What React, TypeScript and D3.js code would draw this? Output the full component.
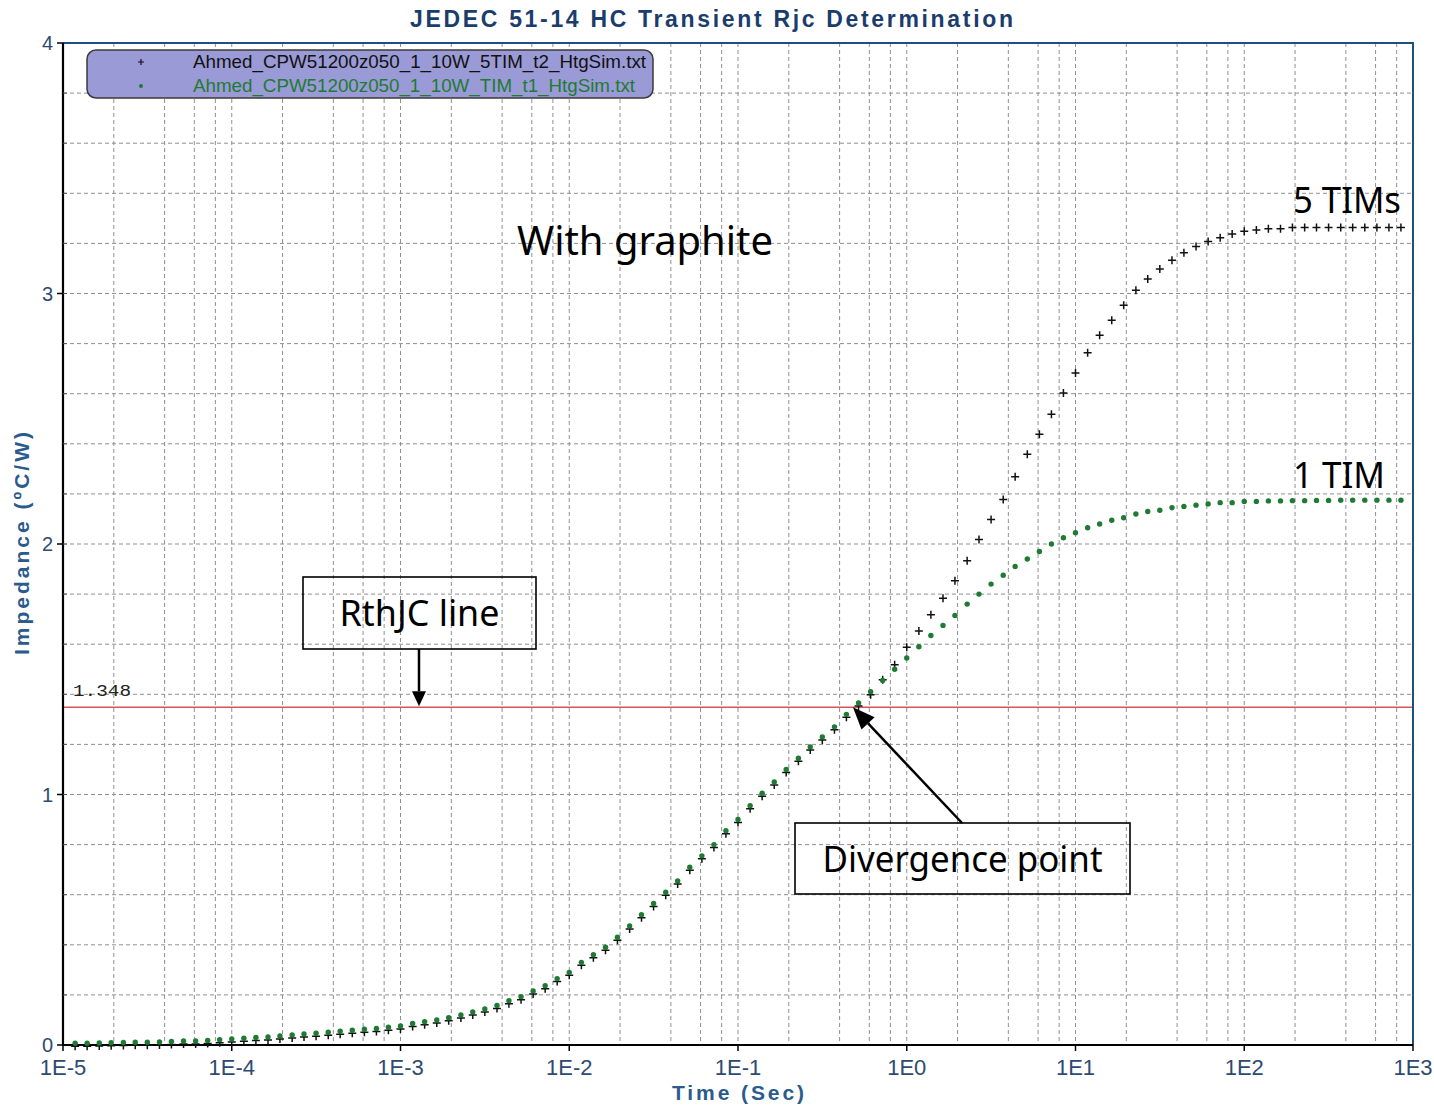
import { useEffect, useRef } from 'react';
import * as d3 from 'd3';

// sample times (s), 14 per decade
const timeSec = [
  1.18e-5, 1.39e-5, 1.64e-5, 1.93e-5, 2.28e-5, 2.68e-5, 3.16e-5, 3.73e-5, 4.39e-5, 5.18e-5, 6.11e-5, 7.2e-5, 8.48e-5,
  1e-4, 1.18e-4, 1.39e-4, 1.64e-4, 1.93e-4, 2.28e-4, 2.68e-4, 3.16e-4, 3.73e-4, 4.39e-4, 5.18e-4, 6.11e-4, 7.2e-4, 8.48e-4,
  1e-3, 1.18e-3, 1.39e-3, 1.64e-3, 1.93e-3, 2.28e-3, 2.68e-3, 3.16e-3, 3.73e-3, 4.39e-3, 5.18e-3, 6.11e-3, 7.2e-3, 8.48e-3,
  1e-2, 1.18e-2, 1.39e-2, 1.64e-2, 1.93e-2, 2.28e-2, 2.68e-2, 3.16e-2, 3.73e-2, 4.39e-2, 5.18e-2, 6.11e-2, 7.2e-2, 8.48e-2,
  1e-1, 1.18e-1, 1.39e-1, 1.64e-1, 1.93e-1, 2.28e-1, 2.68e-1, 3.16e-1, 3.73e-1, 4.39e-1, 5.18e-1, 6.11e-1, 7.2e-1, 8.48e-1,
  1, 1.18, 1.39, 1.64, 1.93, 2.28, 2.68, 3.16, 3.73, 4.39, 5.18, 6.11, 7.2, 8.48,
  10, 11.8, 13.9, 16.4, 19.3, 22.8, 26.8, 31.6, 37.3, 43.9, 51.8, 61.1, 72, 84.8,
  100, 118, 139, 164, 193, 228, 268, 316, 373, 439, 518, 611, 720, 848,
];

// 5 TIMs (black +)
const tim5Impedance = [
  0.007, 0.007, 0.008, 0.009, 0.01, 0.011, 0.011, 0.012, 0.014, 0.016, 0.016, 0.018, 0.021,
  0.024, 0.027, 0.03, 0.032, 0.036, 0.04, 0.044, 0.047, 0.051, 0.055, 0.059, 0.063, 0.066, 0.071,
  0.076, 0.086, 0.093, 0.1, 0.109, 0.12, 0.132, 0.144, 0.158, 0.177, 0.193, 0.216, 0.237, 0.265,
  0.29, 0.33, 0.36, 0.39, 0.43, 0.475, 0.52, 0.565, 0.61, 0.655, 0.71, 0.755, 0.8, 0.855,
  0.9, 0.955, 1.005, 1.05, 1.1, 1.145, 1.19, 1.23, 1.27, 1.32, 1.365, 1.41, 1.47, 1.53,
  1.6, 1.665, 1.73, 1.795, 1.865, 1.945, 2.03, 2.11, 2.19, 2.28, 2.37, 2.45, 2.53, 2.615,
  2.695, 2.775, 2.845, 2.905, 2.965, 3.025, 3.07, 3.11, 3.145, 3.175, 3.2, 3.22, 3.235, 3.25,
  3.26, 3.265, 3.27, 3.27, 3.275, 3.275, 3.275, 3.275, 3.275, 3.275, 3.275, 3.275, 3.275, 3.275,
];

// 1 TIM (green dots)
const tim1Impedance = [
  0.007, 0.007, 0.008, 0.009, 0.01, 0.011, 0.011, 0.012, 0.014, 0.016, 0.016, 0.018, 0.021,
  0.024, 0.027, 0.03, 0.032, 0.036, 0.04, 0.044, 0.047, 0.051, 0.055, 0.059, 0.063, 0.066, 0.071,
  0.076, 0.086, 0.093, 0.1, 0.109, 0.12, 0.132, 0.144, 0.158, 0.177, 0.193, 0.216, 0.237, 0.265,
  0.29, 0.33, 0.36, 0.39, 0.43, 0.475, 0.52, 0.565, 0.61, 0.655, 0.71, 0.755, 0.8, 0.855,
  0.9, 0.955, 1.005, 1.05, 1.1, 1.145, 1.19, 1.23, 1.27, 1.32, 1.365, 1.41, 1.455, 1.5,
  1.545, 1.59, 1.635, 1.675, 1.715, 1.76, 1.8, 1.84, 1.875, 1.91, 1.94, 1.97, 2.0, 2.025,
  2.045, 2.065, 2.08, 2.095, 2.105, 2.12, 2.13, 2.135, 2.145, 2.15, 2.155, 2.16, 2.165, 2.165,
  2.17, 2.17, 2.172, 2.172, 2.173, 2.173, 2.174, 2.174, 2.175, 2.175, 2.175, 2.175, 2.175, 2.175,
];

const seriesNames = [
  'Ahmed_CPW51200z050_1_10W_5TIM_t2_HtgSim.txt',
  'Ahmed_CPW51200z050_1_10W_TIM_t1_HtgSim.txt',
];
const xTickValues = [1e-5, 1e-4, 1e-3, 1e-2, 1e-1, 1, 10, 100, 1000];
const xTickLabels = ['1E-5', '1E-4', '1E-3', '1E-2', '1E-1', '1E0', '1E1', '1E2', '1E3'];
const yTickValues = [0, 1, 2, 3, 4];
const gridMultipliers = [1, 2, 4, 6, 8];
const rthJc = 1.348;
const divergenceTime = 0.48;

const GREEN = '#1f7a33';
const BLUE = '#1f4f7e';

export default function App() {
  const svgRef = useRef<SVGSVGElement>(null);

  useEffect(() => {
    if (!svgRef.current) return;
    const svg = d3.select(svgRef.current);
    svg.selectAll('*').remove();

    const left = 63;
    const right = 1413;
    const top = 43;
    const bottom = 1045;

    const x = d3.scaleLog().domain([1e-5, 1e3]).range([left, right]);
    const y = d3.scaleLinear().domain([0, 4]).range([bottom, top]);

    svg.append('rect').attr('width', 1434).attr('height', 1105).attr('fill', '#fff');

    // grid
    const grid = svg.append('g').attr('stroke', '#8f8f96').attr('stroke-width', 1).attr('stroke-dasharray', '4,3');
    const vLines: number[] = [];
    xTickValues.slice(0, -1).forEach((d) => gridMultipliers.forEach((m) => vLines.push(d * m)));
    grid
      .selectAll('line.v')
      .data(vLines.slice(1))
      .enter()
      .append('line')
      .attr('x1', (d) => x(d))
      .attr('x2', (d) => x(d))
      .attr('y1', top)
      .attr('y2', bottom);
    const hLines = d3.range(1, 20).map((k) => k * 0.2);
    grid
      .selectAll('line.h')
      .data(hLines)
      .enter()
      .append('line')
      .attr('x1', left)
      .attr('x2', right)
      .attr('y1', (d) => y(d))
      .attr('y2', (d) => y(d));

    // RthJC line
    svg
      .append('line')
      .attr('x1', left)
      .attr('x2', right)
      .attr('y1', y(rthJc))
      .attr('y2', y(rthJc))
      .attr('stroke', '#d9545a')
      .attr('stroke-width', 1.5);
    svg
      .append('text')
      .attr('x', left + 10)
      .attr('y', y(rthJc) - 11)
      .attr('font-family', '"Liberation Mono", monospace')
      .attr('font-size', 17)
      .attr('textLength', 58)
      .attr('lengthAdjust', 'spacingAndGlyphs')
      .attr('fill', '#222')
      .text(rthJc.toFixed(3));

    // frame
    svg
      .append('path')
      .attr('d', `M${left},${top}H${right}V${bottom}`)
      .attr('fill', 'none')
      .attr('stroke', BLUE)
      .attr('stroke-width', 2);
    svg
      .append('path')
      .attr('d', `M${left},${top}V${bottom}H${right}`)
      .attr('fill', 'none')
      .attr('stroke', '#000')
      .attr('stroke-width', 2.2);

    // ticks
    svg
      .selectAll('line.xt')
      .data(xTickValues)
      .enter()
      .append('line')
      .attr('x1', (d) => x(d))
      .attr('x2', (d) => x(d))
      .attr('y1', bottom)
      .attr('y2', bottom + 6)
      .attr('stroke', '#000')
      .attr('stroke-width', 1.5);
    svg
      .selectAll('line.ymin')
      .data(hLines)
      .enter()
      .append('line')
      .attr('x1', left)
      .attr('x2', left + 4)
      .attr('y1', (d) => y(d))
      .attr('y2', (d) => y(d))
      .attr('stroke', '#555')
      .attr('stroke-width', 1);
    svg
      .selectAll('line.yt')
      .data(yTickValues)
      .enter()
      .append('line')
      .attr('x1', left - 6)
      .attr('x2', left)
      .attr('y1', (d) => y(d))
      .attr('y2', (d) => y(d))
      .attr('stroke', '#000')
      .attr('stroke-width', 1.5);

    const tickFont = '"Liberation Sans", Arial, sans-serif';
    svg
      .selectAll('text.xl')
      .data(xTickValues)
      .enter()
      .append('text')
      .attr('x', (d) => x(d))
      .attr('y', 1075)
      .attr('text-anchor', 'middle')
      .attr('font-family', tickFont)
      .attr('font-size', 22)
      .attr('fill', '#2d4a73')
      .text((_, i) => xTickLabels[i]);
    svg
      .selectAll('text.yl')
      .data(yTickValues)
      .enter()
      .append('text')
      .attr('x', 53)
      .attr('y', (d) => y(d) + 7)
      .attr('text-anchor', 'end')
      .attr('font-family', tickFont)
      .attr('font-size', 20)
      .attr('fill', '#2d4a73')
      .text((d) => String(d));

    // titles
    svg
      .append('text')
      .attr('x', 410)
      .attr('y', 27)
      .attr('font-family', tickFont)
      .attr('font-weight', 'bold')
      .attr('font-size', 23)
      .attr('textLength', 603)
      .attr('lengthAdjust', 'spacing')
      .attr('fill', '#1b3d6d')
      .text('JEDEC 51-14 HC Transient Rjc Determination');
    svg
      .append('text')
      .attr('x', 672)
      .attr('y', 1100)
      .attr('font-family', tickFont)
      .attr('font-weight', 'bold')
      .attr('font-size', 21)
      .attr('textLength', 132)
      .attr('lengthAdjust', 'spacing')
      .attr('fill', '#2a5b8c')
      .text('Time (Sec)');
    svg
      .append('text')
      .attr('transform', `translate(29,655) rotate(-90)`)
      .attr('font-family', tickFont)
      .attr('font-weight', 'bold')
      .attr('font-size', 21)
      .attr('textLength', 223)
      .attr('lengthAdjust', 'spacing')
      .attr('fill', '#2a5b8c')
      .text('Impedance (ºC/W)');

    // series
    const plus = 'M-4,0H4M0,-4V4';
    svg
      .append('g')
      .selectAll('path')
      .data(timeSec)
      .enter()
      .append('path')
      .attr('transform', (d, i) => `translate(${x(d)},${y(tim5Impedance[i]) + 3})`)
      .attr('d', plus)
      .attr('stroke', '#111')
      .attr('stroke-width', 1.5);
    svg
      .append('g')
      .selectAll('circle')
      .data(timeSec)
      .enter()
      .append('circle')
      .attr('cx', (d) => x(d))
      .attr('cy', (d, i) => y(tim1Impedance[i]))
      .attr('r', 2.7)
      .attr('fill', GREEN);

    // legend
    const lg = svg.append('g');
    lg.append('rect')
      .attr('x', 87)
      .attr('y', 50)
      .attr('width', 566)
      .attr('height', 48)
      .attr('rx', 9)
      .attr('fill', '#9a9ad6')
      .attr('stroke', '#3a3a3a')
      .attr('stroke-width', 1.5);
    lg.append('path').attr('transform', 'translate(141,62)').attr('d', 'M-3,0H3M0,-3V3').attr('stroke', '#111').attr('stroke-width', 1.2);
    lg.append('circle').attr('cx', 141).attr('cy', 86).attr('r', 2).attr('fill', GREEN);
    seriesNames.forEach((name, i) => {
      lg.append('text')
        .attr('x', 193)
        .attr('y', 68 + i * 24)
        .attr('font-family', tickFont)
        .attr('font-size', 19)
        .attr('textLength', i === 0 ? 453 : 442)
        .attr('lengthAdjust', 'spacingAndGlyphs')
        .attr('fill', i === 0 ? '#111' : GREEN)
        .text(name);
    });

    // annotations
    const annFont = '"Noto Sans", "Open Sans", sans-serif';
    const ann = (t: string, tx: number, ty: number, size: number, len: number) =>
      svg
        .append('text')
        .attr('x', tx)
        .attr('y', ty)
        .attr('font-family', annFont)
        .attr('font-size', size)
        .attr('textLength', len)
        .attr('lengthAdjust', 'spacingAndGlyphs')
        .attr('fill', '#000')
        .text(t);
    ann('With graphite', 517, 255, 40, 256);
    ann('5 TIMs', 1293, 213, 36, 108);
    ann('1 TIM', 1293, 488, 36, 92);

    const box = (bx: number, by: number, bw: number, bh: number, t: string, len: number) => {
      svg
        .append('rect')
        .attr('x', bx)
        .attr('y', by)
        .attr('width', bw)
        .attr('height', bh)
        .attr('fill', 'none')
        .attr('stroke', '#000')
        .attr('stroke-width', 1.6);
      svg
        .append('text')
        .attr('x', bx + bw / 2)
        .attr('y', by + bh / 2 + 13)
        .attr('text-anchor', 'middle')
        .attr('font-family', annFont)
        .attr('font-size', 36)
        .attr('textLength', len)
        .attr('lengthAdjust', 'spacingAndGlyphs')
        .attr('fill', '#000')
        .text(t);
    };
    box(303, 577, 233, 72, 'RthJC line', 160);
    box(795, 823, 335, 71, 'Divergence point', 280);

    const arrow = (x1: number, y1: number, x2: number, y2: number, hl: number, hw: number) => {
      const a = Math.atan2(y2 - y1, x2 - x1);
      const bx = x2 - hl * Math.cos(a);
      const by = y2 - hl * Math.sin(a);
      svg
        .append('line')
        .attr('x1', x1)
        .attr('y1', y1)
        .attr('x2', bx)
        .attr('y2', by)
        .attr('stroke', '#000')
        .attr('stroke-width', 2.5);
      const px = -Math.sin(a) * hw;
      const py = Math.cos(a) * hw;
      svg
        .append('path')
        .attr('d', `M${x2},${y2}L${bx + px},${by + py}L${bx - px},${by - py}Z`)
        .attr('fill', '#000');
    };
    arrow(419, 649, 419, y(rthJc) - 1, 15, 7);
    arrow(962, 823, x(divergenceTime), y(rthJc), 22, 9);
  }, []);

  return (
    <svg
      ref={svgRef}
      width={1434}
      height={1105}
      style={{ position: 'absolute', left: 0, top: 0 }}
    ></svg>
  );
}
